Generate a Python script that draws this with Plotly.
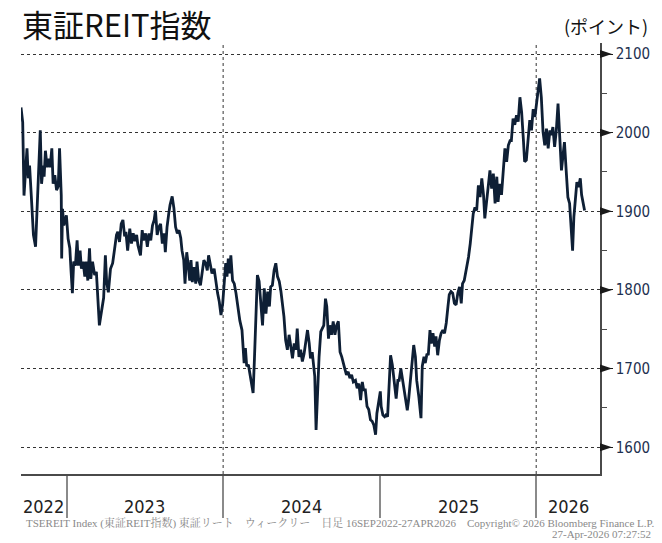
import pandas as pd
import plotly.graph_objects as go

# ---------------- data ----------------
title_text = "東証REIT指数"
unit_text = "(ポイント)"
footer_line1 = ("TSEREIT Index (東証REIT指数) 東証リート　ウィークリー　日足 "
                "16SEP2022-27APR2026　Copyright© 2026 Bloomberg Finance L.P.")
footer_line2 = "27-Apr-2026 07:27:52"

y_ticks = [1600, 1700, 1800, 1900, 2000, 2100]
y_minor = [1650, 1750, 1850, 1950, 2050]
year_labels = ["2022", "2023", "2024", "2025", "2026"]
year_bounds = ["2023-01-01", "2024-01-01", "2025-01-01", "2026-01-01"]
grid_dates = ["2024-01-01", "2026-01-01"]
x_start, x_end = "2022-09-16", "2026-05-30"
y_min, y_max = 1566, 2114

dates_2022 = ["2022-09-16", "2022-09-20", "2022-09-23", "2022-09-27", "2022-09-30",
              "2022-10-03", "2022-10-06", "2022-10-10", "2022-10-15", "2022-10-20",
              "2022-10-23", "2022-10-26", "2022-10-31", "2022-11-03", "2022-11-07",
              "2022-11-09", "2022-11-12", "2022-11-16", "2022-11-20", "2022-11-23",
              "2022-11-27", "2022-11-30", "2022-12-04", "2022-12-08", "2022-12-12",
              "2022-12-15", "2022-12-19", "2022-12-20", "2022-12-22", "2022-12-25",
              "2022-12-31"]
values_2022 = [2032, 2013, 1920, 1950, 1980,
               1942, 1958, 1920, 1870, 1855,
               1899, 1950, 2003, 1935, 1958,
               1944, 1977, 1956, 1967, 1956,
               1980, 1935, 1946, 1927, 1932,
               1980, 1920, 1840, 1903, 1882,
               1895]

dates_2023 = ["2023-01-04", "2023-01-08", "2023-01-11", "2023-01-14", "2023-01-17",
              "2023-01-21", "2023-01-25", "2023-01-28", "2023-02-01", "2023-02-04",
              "2023-02-08", "2023-02-12", "2023-02-15", "2023-02-19", "2023-02-23",
              "2023-02-26", "2023-03-02", "2023-03-07", "2023-03-11", "2023-03-15",
              "2023-03-18", "2023-03-21", "2023-03-25", "2023-03-28", "2023-04-01",
              "2023-04-04", "2023-04-08", "2023-04-13", "2023-04-18", "2023-04-22",
              "2023-04-27", "2023-04-30", "2023-05-04", "2023-05-08", "2023-05-12",
              "2023-05-16", "2023-05-19", "2023-05-23", "2023-05-28", "2023-06-01",
              "2023-06-05", "2023-06-09", "2023-06-13", "2023-06-16", "2023-06-22",
              "2023-06-26", "2023-06-29", "2023-07-04", "2023-07-08", "2023-07-12",
              "2023-07-16", "2023-07-20", "2023-07-24", "2023-07-27", "2023-07-31",
              "2023-08-04", "2023-08-08", "2023-08-12", "2023-08-16", "2023-08-19",
              "2023-08-23", "2023-08-27", "2023-08-30", "2023-09-04", "2023-09-08",
              "2023-09-12", "2023-09-16", "2023-09-20", "2023-09-24", "2023-09-27",
              "2023-10-01", "2023-10-04", "2023-10-08", "2023-10-11", "2023-10-15",
              "2023-10-18", "2023-10-21", "2023-10-25", "2023-10-29", "2023-11-01",
              "2023-11-05", "2023-11-09", "2023-11-13", "2023-11-17", "2023-11-21",
              "2023-11-25", "2023-11-28", "2023-12-02", "2023-12-06", "2023-12-11",
              "2023-12-15", "2023-12-19", "2023-12-23", "2023-12-27", "2023-12-31"]
values_2023 = [1865, 1853, 1823, 1796, 1836,
               1831, 1863, 1831, 1850, 1827,
               1836, 1817, 1836, 1812, 1853,
               1814, 1836, 1819, 1823, 1789,
               1755, 1766, 1777, 1790, 1844,
               1810, 1797, 1827, 1834, 1848,
               1870, 1874, 1861, 1884, 1889,
               1868, 1874, 1850, 1878, 1859,
               1872, 1862, 1870, 1857, 1844,
               1876, 1863, 1872, 1855, 1872,
               1863, 1882, 1889, 1901, 1870,
               1880, 1884, 1859, 1872, 1848,
               1880, 1897, 1908, 1919, 1904,
               1880, 1872, 1876, 1866, 1850,
               1838, 1808, 1848, 1834, 1812,
               1838, 1810, 1829, 1808, 1836,
               1812, 1806, 1825, 1838, 1834,
               1825, 1844, 1834, 1821, 1827,
               1808, 1796, 1785, 1768, 1783]

dates_2024 = ["2024-01-04", "2024-01-07", "2024-01-10", "2024-01-13", "2024-01-16",
              "2024-01-19", "2024-01-23", "2024-01-27", "2024-01-31", "2024-02-05",
              "2024-02-09", "2024-02-14", "2024-02-19", "2024-02-22", "2024-02-25",
              "2024-02-29", "2024-03-04", "2024-03-07", "2024-03-11", "2024-03-14",
              "2024-03-18", "2024-03-21", "2024-03-25", "2024-03-29", "2024-04-02",
              "2024-04-06", "2024-04-10", "2024-04-14", "2024-04-18", "2024-04-21",
              "2024-04-25", "2024-04-29", "2024-05-03", "2024-05-07", "2024-05-11",
              "2024-05-15", "2024-05-19", "2024-05-22", "2024-05-26", "2024-05-30",
              "2024-06-03", "2024-06-07", "2024-06-11", "2024-06-15", "2024-06-19",
              "2024-06-22", "2024-06-26", "2024-06-30", "2024-07-04", "2024-07-08",
              "2024-07-12", "2024-07-16", "2024-07-20", "2024-07-23", "2024-07-27",
              "2024-07-31", "2024-08-02", "2024-08-05", "2024-08-09", "2024-08-12",
              "2024-08-16", "2024-08-20", "2024-08-23", "2024-08-27", "2024-08-30",
              "2024-09-03", "2024-09-06", "2024-09-10", "2024-09-14", "2024-09-18",
              "2024-09-22", "2024-09-26", "2024-09-30", "2024-10-04", "2024-10-07",
              "2024-10-11", "2024-10-15", "2024-10-19", "2024-10-23", "2024-10-27",
              "2024-10-31", "2024-11-05", "2024-11-09", "2024-11-13", "2024-11-17",
              "2024-11-21", "2024-11-24", "2024-11-28", "2024-12-02", "2024-12-06",
              "2024-12-10", "2024-12-14", "2024-12-18", "2024-12-22", "2024-12-25",
              "2024-12-29"]
values_2024 = [1808, 1834, 1817, 1840, 1821,
               1844, 1812, 1808, 1796, 1774,
               1761, 1749, 1707, 1726, 1703,
               1705, 1690, 1683, 1669, 1711,
               1787, 1819, 1811, 1779, 1755,
               1802, 1770, 1798, 1779, 1804,
               1806, 1825, 1834, 1817, 1811,
               1798, 1779, 1766, 1736, 1724,
               1743, 1728, 1713, 1732, 1724,
               1751, 1715, 1724, 1709, 1719,
               1732, 1749, 1732, 1713, 1721,
               1703, 1690, 1622, 1690, 1715,
               1747, 1751, 1755, 1789, 1779,
               1738, 1755, 1743, 1760, 1743,
               1755, 1760, 1721, 1715, 1707,
               1700, 1692, 1696, 1688, 1692,
               1683, 1685, 1675, 1681, 1660,
               1683, 1673, 1673, 1652, 1648,
               1635, 1633, 1628, 1616, 1643,
               1660]

dates_2025 = ["2025-01-02", "2025-01-04", "2025-01-08", "2025-01-12", "2025-01-15",
              "2025-01-19", "2025-01-23", "2025-01-26", "2025-01-30", "2025-02-04",
              "2025-02-08", "2025-02-12", "2025-02-15", "2025-02-19", "2025-02-23",
              "2025-02-27", "2025-03-03", "2025-03-06", "2025-03-09", "2025-03-13",
              "2025-03-17", "2025-03-21", "2025-03-25", "2025-03-28", "2025-04-02",
              "2025-04-07", "2025-04-10", "2025-04-14", "2025-04-17", "2025-04-21",
              "2025-04-24", "2025-04-28", "2025-05-01", "2025-05-05", "2025-05-09",
              "2025-05-12", "2025-05-16", "2025-05-20", "2025-05-24", "2025-05-28",
              "2025-06-01", "2025-06-05", "2025-06-09", "2025-06-12", "2025-06-16",
              "2025-06-20", "2025-06-24", "2025-06-28", "2025-07-02", "2025-07-06",
              "2025-07-10", "2025-07-13", "2025-07-17", "2025-07-20", "2025-07-24",
              "2025-07-27", "2025-07-31", "2025-08-03", "2025-08-07", "2025-08-11",
              "2025-08-15", "2025-08-19", "2025-08-23", "2025-08-27", "2025-08-31",
              "2025-09-03", "2025-09-07", "2025-09-11", "2025-09-15", "2025-09-19",
              "2025-09-23", "2025-09-27", "2025-10-01", "2025-10-04", "2025-10-08",
              "2025-10-12", "2025-10-16", "2025-10-20", "2025-10-24", "2025-10-28",
              "2025-11-01", "2025-11-04", "2025-11-08", "2025-11-12", "2025-11-16",
              "2025-11-20", "2025-11-24", "2025-11-28", "2025-12-02", "2025-12-05",
              "2025-12-09", "2025-12-13", "2025-12-17", "2025-12-21", "2025-12-25",
              "2025-12-29"]
values_2025 = [1671, 1652, 1641, 1639, 1641,
               1639, 1690, 1717, 1705, 1683,
               1662, 1685, 1685, 1700, 1685,
               1675, 1660, 1647, 1660, 1685,
               1711, 1730, 1715, 1685, 1664,
               1637, 1703, 1715, 1707, 1719,
               1717, 1749, 1732, 1745, 1728,
               1741, 1717, 1736, 1745, 1749,
               1745, 1758, 1779, 1794, 1798,
               1796, 1783, 1781, 1796, 1804,
               1783, 1808, 1812, 1821, 1829,
               1842, 1859, 1880, 1897, 1905,
               1901, 1933, 1918, 1942, 1921,
               1891, 1914, 1935, 1952, 1929,
               1948, 1910, 1944, 1912, 1935,
               1921, 1952, 1980, 1963, 1984,
               1990, 1990, 2018, 2010, 2022,
               2014, 2045, 2026, 1992, 1963,
               1965, 1986, 2016, 2003, 2030,
               2020]

dates_2026 = ["2026-01-02", "2026-01-05", "2026-01-09", "2026-01-13", "2026-01-17",
              "2026-01-21", "2026-01-25", "2026-01-29", "2026-02-02", "2026-02-05",
              "2026-02-09", "2026-02-13", "2026-02-17", "2026-02-21", "2026-02-25",
              "2026-03-01", "2026-03-05", "2026-03-08", "2026-03-12", "2026-03-16",
              "2026-03-20", "2026-03-24", "2026-03-27", "2026-03-30", "2026-04-02",
              "2026-04-06", "2026-04-10", "2026-04-14", "2026-04-17", "2026-04-24"]
values_2026 = [2039, 2045, 2069, 2045, 2001,
               1984, 2005, 1980, 2003, 1997,
               2007, 1982, 2003, 2037, 1995,
               1952, 1973, 1988, 1952, 1918,
               1910, 1867, 1850, 1893, 1914,
               1937, 1931, 1942, 1921, 1901]

dates = dates_2022 + dates_2023 + dates_2024 + dates_2025 + dates_2026
values = values_2022 + values_2023 + values_2024 + values_2025 + values_2026

# ---------------- figure ----------------
W, H = 662, 543
ML, MR, MT, MB = 21, 60, 43, 69
plot_w, plot_h = W - ML - MR, H - MT - MB


def px_x(px):
    return (px - ML) / plot_w


def px_y(py):
    return (H - MB - py) / plot_h


fig = go.Figure()
fig.add_trace(go.Scatter(
    x=pd.to_datetime(dates), y=values, mode="lines",
    line=dict(color="#0e1f35", width=2.8), hoverinfo="x+y", showlegend=False,
))

shapes = []
for g in grid_dates:
    shapes.append(dict(type="line", xref="x", yref="paper", x0=g, x1=g, y0=0, y1=1,
                       line=dict(color="#333333", width=1, dash="dot"), layer="below"))
for v in y_ticks:
    shapes.append(dict(type="path", xref="paper", yref="y", xsizemode="pixel",
                       ysizemode="pixel", xanchor=1, yanchor=v,
                       path="M0,-4 L12,0 L0,4 Z", fillcolor="#1a1a1a",
                       line=dict(width=0)))

annotations = [
    dict(text=title_text, xref="paper", yref="paper", x=px_x(20), y=px_y(24),
         xanchor="left", yanchor="middle", showarrow=False,
         font=dict(family="Noto Sans CJK JP", size=31, color="#111111")),
    dict(text=unit_text, xref="paper", yref="paper", x=px_x(652), y=px_y(26),
         xanchor="right", yanchor="middle", showarrow=False,
         font=dict(family="Noto Sans CJK JP", size=18, color="#111111")),
    dict(text=footer_line1, xref="paper", yref="paper", x=px_x(24), y=px_y(523),
         xanchor="left", yanchor="middle", showarrow=False,
         font=dict(family="Liberation Serif, Noto Serif CJK JP, Noto Sans CJK JP, serif",
                   size=11, color="#8a8a8a")),
    dict(text=footer_line2, xref="paper", yref="paper", x=px_x(655), y=px_y(534),
         xanchor="right", yanchor="middle", showarrow=False,
         font=dict(family="Liberation Serif, serif", size=11, color="#8a8a8a")),
]

# year labels centred in the visible part of each calendar year
t0, t1 = pd.Timestamp(x_start), pd.Timestamp(x_end)
for yl in year_labels:
    a = max(t0, pd.Timestamp(f"{yl}-01-01"))
    b = min(t1, pd.Timestamp(f"{int(yl) + 1}-01-01"))
    mid = a + (b - a) / 2
    annotations.append(dict(text=yl, xref="x", yref="paper", x=mid, y=px_y(506),
                            xanchor="center", yanchor="middle", showarrow=False,
                            font=dict(family="DejaVu Sans Condensed, sans-serif",
                                      size=18, color="#222222")))

fig.update_layout(
    width=W, height=H,
    margin=dict(l=ML, r=MR, t=MT, b=MB, pad=0),
    paper_bgcolor="white", plot_bgcolor="white",
    shapes=shapes, annotations=annotations,
    xaxis=dict(type="date", range=[x_start, x_end], showgrid=False, zeroline=False,
               tickvals=year_bounds, showticklabels=False, ticks="outside",
               ticklen=42, tickwidth=1.5, tickcolor="#8a8a8a",
               showline=True, linecolor="#4a4a4a", linewidth=1.5),
    yaxis=dict(side="right", range=[y_min, y_max], tickvals=y_ticks,
               showgrid=True, gridcolor="#333333", griddash="dot", gridwidth=1,
               zeroline=False, ticks="outside", ticklen=11, tickcolor="#1a1a1a",
               tickwidth=1, showline=True, linecolor="#4a4a4a", linewidth=1.5,
               tickfont=dict(family="DejaVu Sans Condensed, sans-serif", size=15,
                             color="#1d3050"),
               minor=dict(tickvals=y_minor, ticks="outside", ticklen=5,
                          tickcolor="#4a4a4a", showgrid=False)),
)

fig.write_html(
    "out.html",
    config={"displayModeBar": False},
    post_script="document.body.style.margin='0';document.body.style.padding='0';"
                "document.body.style.overflow='hidden';",
)
